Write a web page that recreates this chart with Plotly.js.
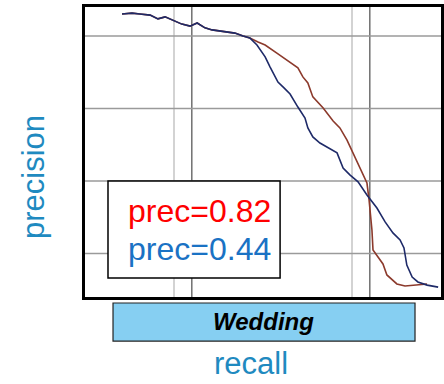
<!DOCTYPE html>
<html>
<head>
<meta charset="utf-8">
<script src="https://cdn.plot.ly/plotly-3.0.1.min.js"></script>
<style>
  html, body { margin: 0; padding: 0; background: #ffffff; }
  #chart { width: 444px; height: 384px; }
</style>
</head>
<body>
<div id="chart"></div>
<script>
// Precision-recall curves for the "Wedding" class.
const redRecall = [0.104, 0.132, 0.154, 0.183, 0.205, 0.225, 0.272, 0.295, 0.315, 0.337, 0.357, 0.379, 0.402, 0.421, 0.444, 0.463, 0.486,
  0.506, 0.539, 0.567, 0.598, 0.612, 0.626, 0.640, 0.669, 0.697, 0.716, 0.736, 0.758, 0.772, 0.781, 0.792, 0.798, 0.803, 0.806, 0.809,
  0.823, 0.837, 0.848, 0.862, 0.876, 0.899, 0.933, 0.961];
const redPrecision = [0.976, 0.979, 0.976, 0.972, 0.959, 0.966, 0.941, 0.934, 0.945, 0.928, 0.921, 0.917, 0.914, 0.910, 0.900, 0.893, 0.879,
  0.869, 0.841, 0.817, 0.790, 0.759, 0.738, 0.690, 0.652, 0.607, 0.583, 0.541, 0.483, 0.448, 0.428, 0.393, 0.334, 0.276, 0.231, 0.162,
  0.138, 0.114, 0.076, 0.059, 0.045, 0.038, 0.041, 0.045];

const blueRecall = [0.104, 0.132, 0.154, 0.183, 0.205, 0.225, 0.272, 0.295, 0.315, 0.337, 0.357, 0.379, 0.402, 0.421, 0.444, 0.463, 0.483,
  0.506, 0.520, 0.542, 0.559, 0.576, 0.598, 0.618, 0.626, 0.640, 0.660, 0.680, 0.708, 0.725, 0.744, 0.767, 0.792, 0.820, 0.843, 0.865,
  0.885, 0.896, 0.904, 0.919, 0.935, 0.961, 0.992];
const bluePrecision = [0.976, 0.979, 0.976, 0.972, 0.959, 0.966, 0.941, 0.934, 0.945, 0.928, 0.921, 0.917, 0.914, 0.910, 0.900, 0.893, 0.869,
  0.828, 0.793, 0.741, 0.721, 0.700, 0.655, 0.617, 0.583, 0.552, 0.531, 0.517, 0.497, 0.445, 0.421, 0.397, 0.352, 0.307, 0.259, 0.221,
  0.197, 0.169, 0.110, 0.069, 0.052, 0.041, 0.034];

const precLabels = ["prec=0.82", "prec=0.44"];
const className = "Wedding";

// Grid positions (recall / precision)
const darkRecallGrid = [0.30, 0.80];
const lightRecallGrid = [0.25, 0.75];
const precisionGrid = [0.15, 0.40, 0.65, 0.90];

const shapes = [];
lightRecallGrid.forEach(v => shapes.push({type: 'line', xref: 'x', yref: 'paper', x0: v, x1: v, y0: 0, y1: 1,
  line: {color: '#c4c4c4', width: 1.5}, layer: 'below'}));
darkRecallGrid.forEach(v => shapes.push({type: 'line', xref: 'x', yref: 'paper', x0: v, x1: v, y0: 0, y1: 1,
  line: {color: '#707070', width: 1.5}, layer: 'below'}));
precisionGrid.forEach(v => shapes.push({type: 'line', xref: 'paper', yref: 'y', x0: 0, x1: 1, y0: v, y1: v,
  line: {color: '#9a9a9a', width: 1.5}, layer: 'below'}));

// legend box inside the plot
shapes.push({type: 'rect', xref: 'paper', yref: 'paper', x0: 0.0646, x1: 0.548, y0: 0.0655, y1: 0.40,
  fillcolor: '#ffffff', line: {color: '#000000', width: 1.5}, layer: 'above'});
// class name box under the plot
shapes.push({type: 'rect', xref: 'paper', yref: 'paper', x0: 0.0787, x1: 0.927, y0: -0.152, y1: -0.0207,
  fillcolor: '#86cff2', line: {color: '#222222', width: 1.2}, layer: 'above'});

const traces = [
  {x: redRecall, y: redPrecision, type: 'scatter', mode: 'lines',
   line: {color: '#8c3a2c', width: 1.6}, hoverinfo: 'skip'},
  {x: blueRecall, y: bluePrecision, type: 'scatter', mode: 'lines',
   line: {color: '#1e2a68', width: 1.6}, hoverinfo: 'skip'}
];

const layout = {
  width: 444, height: 384,
  margin: {l: 85, r: 3, t: 7, b: 87},
  paper_bgcolor: '#ffffff', plot_bgcolor: '#ffffff',
  showlegend: false,
  font: {family: 'Liberation Sans, Arial, sans-serif'},
  xaxis: {range: [0, 1], showgrid: false, zeroline: false, showticklabels: false, ticks: '',
          showline: true, mirror: true, linecolor: '#000000', linewidth: 3, fixedrange: true},
  yaxis: {range: [0, 1], showgrid: false, zeroline: false, showticklabels: false, ticks: '',
          showline: true, mirror: true, linecolor: '#000000', linewidth: 3, fixedrange: true},
  shapes: shapes,
  annotations: [
    {text: precLabels[0], xref: 'paper', yref: 'paper', x: 0.527, y: 0.297, xanchor: 'right', yanchor: 'middle',
     showarrow: false, font: {size: 32, color: '#ff0000'}},
    {text: precLabels[1], xref: 'paper', yref: 'paper', x: 0.527, y: 0.165, xanchor: 'right', yanchor: 'middle',
     showarrow: false, font: {size: 32, color: '#1a72c4'}},
    {text: '<b><i>' + className + '</i></b>', xref: 'paper', yref: 'paper', x: 0.501, y: -0.086,
     xanchor: 'center', yanchor: 'middle', showarrow: false, font: {size: 24, color: '#000000'}},
    {text: 'recall', xref: 'paper', yref: 'paper', x: 0.466, y: -0.228, xanchor: 'center', yanchor: 'middle',
     showarrow: false, font: {size: 31, color: '#1f8ac0'}},
    {text: 'precision', xref: 'paper', yref: 'paper', x: -0.143, y: 0.414, xanchor: 'center', yanchor: 'middle',
     textangle: -90, showarrow: false, font: {size: 31, color: '#1f8ac0'}}
  ]
};

Plotly.newPlot('chart', traces, layout, {displayModeBar: false, staticPlot: true});
</script>
</body>
</html>
